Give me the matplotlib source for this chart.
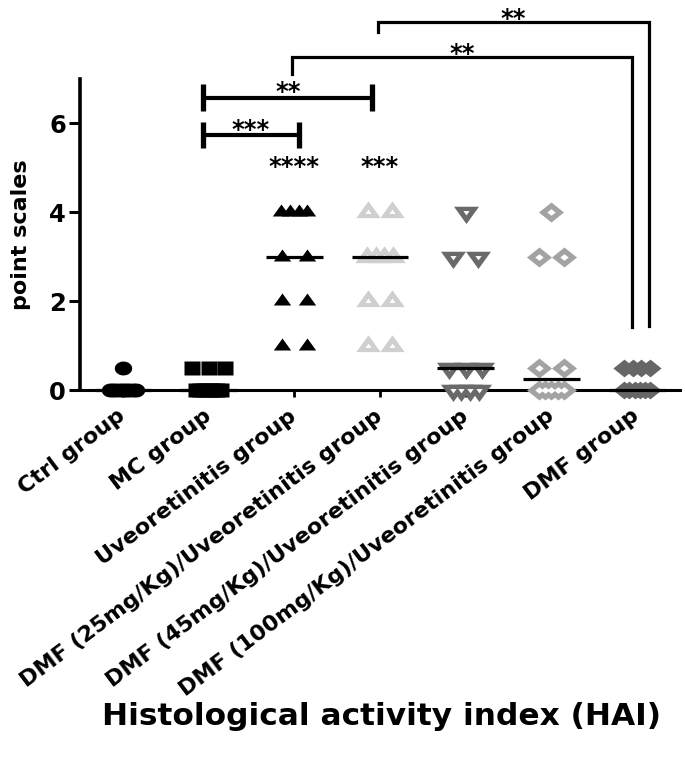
import numpy as np
import matplotlib
matplotlib.use("Agg")
import matplotlib.pyplot as plt
from matplotlib.path import Path

# ---------------- data ----------------
groups = ["Ctrl group", "MC group", "Uveoretinitis group",
          "DMF (25mg/Kg)/Uveoretinitis group",
          "DMF (45mg/Kg)/Uveoretinitis group",
          "DMF (100mg/Kg)/Uveoretinitis group", "DMF group"]

ctrl = [0, 0, 0, 0, 0, 0, 0, 0, 0, 0.5]
mc = [0, 0, 0, 0, 0, 0, 0, 0.5, 0.5, 0.5]
uveo = [1, 1, 2, 2, 3, 3, 4, 4, 4, 4]
dmf25 = [1, 1, 2, 2, 3, 3, 3, 3, 4, 4]
dmf45 = [0, 0, 0, 0, 0.5, 0.5, 0.5, 3, 3, 4]
dmf100 = [0, 0, 0, 0, 0, 0.5, 0.5, 3, 3, 4]
dmf = [0, 0, 0, 0, 0, 0, 0.5, 0.5, 0.5, 0.5]

y_ticks = [0, 2, 4, 6]
group_stars = ["", "", "****", "***", "", "", ""]
# pairwise comparisons: (group a, group b, label)
comparisons = [(1, 2, "***"), (1, 3, "**"), (2, 6, "**"), (3, 6, "**")]

series = [ctrl, mc, uveo, dmf25, dmf45, dmf100, dmf]

# ---------------- styles ----------------
SX = 1.25  # horizontal stretch of marker shapes


def poly(verts):
    v = np.array(verts, float)
    v[:, 0] *= SX
    v = np.vstack([v, v[:1]])
    return Path(v, closed=True)


th = np.linspace(0, 2 * np.pi, 65)[:-1]
m_circle = poly(np.c_[np.cos(th), np.sin(th)])
m_square = poly([(-1, -1), (1, -1), (1, 1), (-1, 1)])
m_tri_up = poly([(0, 1), (-0.866, -0.5), (0.866, -0.5)])
m_tri_dn = poly([(0, -1), (0.866, 0.5), (-0.866, 0.5)])
m_diam = poly([(0, 1), (1, 0), (0, -1), (-1, 0)])

styles = [
    dict(marker=m_circle, ms=12.5, color="black", hole=None),
    dict(marker=m_square, ms=11.8, color="black", hole=None),
    dict(marker=m_tri_up, ms=12.5, color="black", hole=None),
    dict(marker=m_tri_up, ms=17.5, color="#cfcfcf", hole=4.5),
    dict(marker=m_tri_dn, ms=18, color="#6a6a6a", hole=4.5),
    dict(marker=m_diam, ms=18, color="#a3a3a3", hole=6),
    dict(marker=m_diam, ms=16, color="#666666", hole=None),
]
SPREAD = {1: 0.0, 2: 0.29, 3: 0.38}


def spread_x(center, values):
    vals = np.asarray(values, float)
    xs = np.zeros_like(vals)
    for v in np.unique(vals):
        idx = np.where(vals == v)[0]
        n = len(idx)
        span = SPREAD.get(n, 0.30)
        xs[idx] = center + (np.linspace(-span / 2, span / 2, n) if n > 1 else 0)
    return xs


plt.rcParams["font.family"] = ["DejaVu Sans"]
plt.rcParams["font.weight"] = "bold"

fig = plt.figure(figsize=(6.85, 7.62), dpi=100)
ax = fig.add_axes([80 / 685, 372 / 762, 600 / 685, 311 / 762])

for i, (vals, st) in enumerate(zip(series, styles)):
    xs = spread_x(i, vals)
    ax.plot(xs, vals, ls="none", marker=st["marker"], ms=st["ms"],
            mfc=st["color"], mec="none", clip_on=False, zorder=3)
    if st["hole"]:
        ax.plot(xs, vals, ls="none", marker=st["marker"], ms=st["hole"],
                mfc="white", mec="none", clip_on=False, zorder=3.5)
    med = np.median(vals)
    ax.hlines(med, i - 0.33, i + 0.33, color="black", lw=2.3, zorder=4,
              clip_on=False)
    if group_stars[i]:
        ax.text(i, 5.02, group_stars[i], ha="center", va="center",
                fontsize=17.5, fontweight="bold", clip_on=False)

# brackets (layout constants per comparison)
bracket_geom = {
    (1, 2): dict(y=5.74, xl=-0.07, xr=0.05, kind="cap", ty=5.86),
    (1, 3): dict(y=6.58, xl=-0.06, xr=-0.09, kind="cap", ty=6.70),
    (2, 6): dict(y=7.5, xl=-0.03, xr=-0.06, kind="drop", dl=7.12, dr=1.42, ty=7.56),
    (3, 6): dict(y=8.29, xl=-0.02, xr=0.14, kind="drop", dl=8.06, dr=1.44, ty=8.34),
}
for a, b, lab in comparisons:
    g = bracket_geom[(a, b)]
    x0, x1 = a + g["xl"], b + g["xr"]
    if g["kind"] == "cap":
        ax.plot([x0, x1], [g["y"], g["y"]], color="black", lw=3, clip_on=False,
                solid_capstyle="butt")
        for xx in (x0, x1):
            ax.plot([xx, xx], [g["y"] - 0.3, g["y"] + 0.3], color="black", lw=3.8,
                    clip_on=False, solid_capstyle="butt")
    else:
        ax.plot([x0, x0, x1, x1], [g["dl"], g["y"], g["y"], g["dr"]],
                color="black", lw=2.3, clip_on=False, solid_joinstyle="miter")
    ax.text((x0 + x1) / 2, g["ty"], lab, ha="center", va="center",
            fontsize=17.5, fontweight="bold", clip_on=False)

ax.set_xlim(-0.5, 6.5)
ax.set_ylim(0, 7)
ax.spines["top"].set_visible(False)
ax.spines["right"].set_visible(False)
ax.spines["left"].set_linewidth(2.6)
ax.spines["bottom"].set_linewidth(2.2)
ax.set_yticks(y_ticks)
ax.set_yticklabels([str(t) for t in y_ticks], fontsize=17.5, fontweight="bold")
ax.tick_params(axis="y", length=8, width=2.2, pad=2)
ax.set_xticks(range(len(groups)))
ax.set_xticklabels(groups, rotation=37, ha="right", va="center",
                   rotation_mode="anchor", fontsize=16, fontweight="bold")
ax.tick_params(axis="x", length=5, width=2, pad=12)

ax.set_ylabel("point scales", fontsize=16, fontweight="bold")
ax.yaxis.set_label_coords(-0.098, 0.5)
ax.yaxis.label.set_va("center")
ax.set_xlabel("Histological activity index (HAI)", fontsize=22.5, fontweight="bold")
ax.xaxis.set_label_coords(0.502, -1.05)
ax.xaxis.label.set_va("center")

fig.savefig("out.png", dpi=100)
